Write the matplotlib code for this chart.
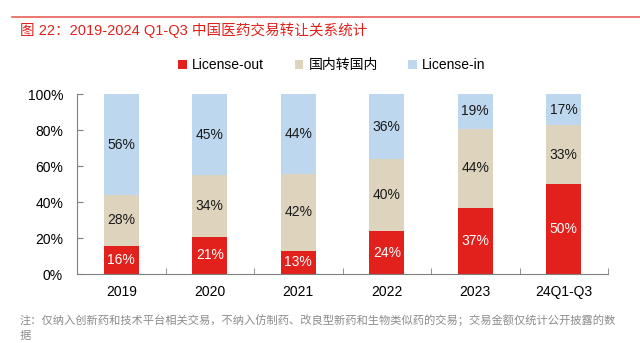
import matplotlib
matplotlib.use("Agg")
import matplotlib.pyplot as plt
from matplotlib.lines import Line2D
from matplotlib.patches import Patch
import numpy as np

plt.rcParams['font.family'] = ['Liberation Sans', 'Noto Sans CJK SC', 'DejaVu Sans']

categories = ['2019', '2020', '2021', '2022', '2023', '24Q1-Q3']
license_out = [16, 21, 13, 24, 37, 50]
domestic = [28, 34, 42, 40, 44, 33]
license_in = [56, 45, 44, 36, 19, 17]
series_names = ['License-out', '国内转国内', 'License-in']
colors = ['#E2211C', '#DED4BD', '#BDD7EE']
yticks = [0, 20, 40, 60, 80, 100]

# shares are rounded; stack them as fractions of each year's total
tot = np.array(license_out) + np.array(domestic) + np.array(license_in)
s_out = np.array(license_out) / tot * 100
s_dom = np.array(domestic) / tot * 100
s_in = np.array(license_in) / tot * 100

W, H = 640, 343
fig = plt.figure(figsize=(W / 100, H / 100), dpi=100)
fig.patch.set_facecolor('white')

fig.add_artist(Line2D([12 / W, 1.0], [1 - 17 / H, 1 - 17 / H], color='#E8605A', lw=1.2))
fig.text(20 / W, 1 - 30 / H, '图 22：2019-2024 Q1-Q3 中国医药交易转让关系统计',
         color='#E2211C', fontsize=10.5, va='center', ha='left')

ax = fig.add_axes([77 / W, 1 - 274.3 / H, (608 - 77) / W, (274.3 - 94.3) / H])
x = np.arange(len(categories))
bw = 0.4
ax.bar(x, s_out, bw, color=colors[0])
ax.bar(x, s_dom, bw, bottom=s_out, color=colors[1])
ax.bar(x, s_in, bw, bottom=s_out + s_dom, color=colors[2])

for i in range(len(categories)):
    ax.text(x[i], s_out[i] / 2, f'{license_out[i]}%', ha='center', va='center',
            color='white', fontsize=10)
    ax.text(x[i], s_out[i] + s_dom[i] / 2, f'{domestic[i]}%', ha='center', va='center',
            color='#1a1a1a', fontsize=10)
    ax.text(x[i], s_out[i] + s_dom[i] + s_in[i] / 2, f'{license_in[i]}%', ha='center',
            va='center', color='#1a1a1a', fontsize=10)

ax.set_xlim(-0.5, len(categories) - 0.5)
ax.set_ylim(0, 100)
ax.set_yticks(yticks)
ax.set_yticklabels([f'{v}%' for v in yticks], fontsize=10)
ax.set_xticks(x)
ax.set_xticklabels(categories, fontsize=10)
ax.set_xticks(np.arange(-0.5, len(categories), 1.0), minor=True)
ax.tick_params(axis='x', which='major', length=0, pad=8)
ax.tick_params(axis='x', which='minor', length=4, direction='in', color='#808080')
ax.tick_params(axis='y', length=4, direction='in', color='#808080', pad=10)
for s in ['top', 'right']:
    ax.spines[s].set_visible(False)
for s in ['left', 'bottom']:
    ax.spines[s].set_color('#808080')
    ax.spines[s].set_linewidth(0.8)

handles = [Patch(facecolor=c, edgecolor='none') for c in colors]
fig.legend(handles, series_names, loc='center', bbox_to_anchor=(332 / W, 1 - 65 / H),
           ncol=3, frameon=False, fontsize=10, handlelength=0.6, handleheight=0.6,
           handletextpad=0.4, columnspacing=2.2)

fig.text(20 / W, 1 - 320 / H,
         '注：仅纳入创新药和技术平台相关交易，不纳入仿制药、改良型新药和生物类似药的交易；交易金额仅统计公开披露的数',
         color='#8C8C8C', fontsize=8.1, va='center', ha='left',
         family=['Noto Sans CJK SC', 'DejaVu Sans'])
fig.text(20 / W, 1 - 336 / H, '据', color='#8C8C8C', fontsize=8.1, va='center', ha='left',
         family=['Noto Sans CJK SC', 'DejaVu Sans'])

fig.savefig('out.png', dpi=100)
